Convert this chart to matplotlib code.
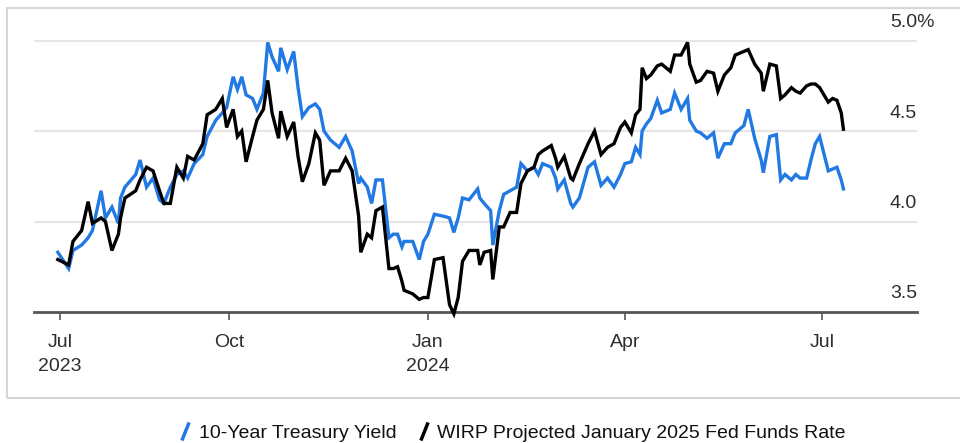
import matplotlib
matplotlib.use("Agg")
import matplotlib.pyplot as plt
import matplotlib.transforms as mtransforms
from matplotlib.patches import Rectangle
from matplotlib.lines import Line2D
from matplotlib.path import Path
import pandas as pd

plt.rcParams['font.family'] = ['Liberation Sans', 'DejaVu Sans']

# observation dates and the two rate series (percent)
dates = [
    "2023-07-14", "2023-07-19", "2023-07-21", "2023-07-25", "2023-07-28", "2023-07-30",
    "2023-08-03", "2023-08-05", "2023-08-08", "2023-08-11", "2023-08-12", "2023-08-14",
    "2023-08-19", "2023-08-21", "2023-08-24", "2023-08-27", "2023-08-30", "2023-09-01",
    "2023-09-04", "2023-09-07", "2023-09-10", "2023-09-12", "2023-09-15", "2023-09-19",
    "2023-09-21", "2023-09-25", "2023-09-28", "2023-09-30", "2023-10-03", "2023-10-05",
    "2023-10-07", "2023-10-09", "2023-10-12", "2023-10-14", "2023-10-17", "2023-10-19",
    "2023-10-21", "2023-10-24", "2023-10-25", "2023-10-28", "2023-10-31", "2023-11-02",
    "2023-11-04", "2023-11-07", "2023-11-10", "2023-11-12", "2023-11-14", "2023-11-17",
    "2023-11-21", "2023-11-24", "2023-11-27", "2023-11-30", "2023-12-01", "2023-12-04",
    "2023-12-06", "2023-12-08", "2023-12-11", "2023-12-14", "2023-12-16", "2023-12-18",
    "2023-12-20", "2023-12-21", "2023-12-25", "2023-12-28", "2023-12-30", "2024-01-01",
    "2024-01-04", "2024-01-08", "2024-01-11", "2024-01-13", "2024-01-15", "2024-01-17",
    "2024-01-20", "2024-01-24", "2024-01-25", "2024-01-27", "2024-01-30", "2024-01-31",
    "2024-02-03", "2024-02-05", "2024-02-08", "2024-02-11", "2024-02-13", "2024-02-16",
    "2024-02-19", "2024-02-21", "2024-02-23", "2024-02-27", "2024-02-29", "2024-03-01",
    "2024-03-04", "2024-03-07", "2024-03-08", "2024-03-11", "2024-03-15", "2024-03-18",
    "2024-03-21", "2024-03-24", "2024-03-27", "2024-03-30", "2024-04-01", "2024-04-04",
    "2024-04-06", "2024-04-08", "2024-04-09", "2024-04-11", "2024-04-13", "2024-04-16",
    "2024-04-18", "2024-04-22", "2024-04-24", "2024-04-27", "2024-04-30", "2024-05-01",
    "2024-05-04", "2024-05-06", "2024-05-09", "2024-05-12", "2024-05-14", "2024-05-17",
    "2024-05-20", "2024-05-22", "2024-05-26", "2024-05-28", "2024-05-31", "2024-06-03",
    "2024-06-04", "2024-06-07", "2024-06-10", "2024-06-12", "2024-06-14", "2024-06-17",
    "2024-06-19", "2024-06-21", "2024-06-24", "2024-06-26", "2024-06-28", "2024-06-30",
    "2024-07-04", "2024-07-06", "2024-07-08", "2024-07-10", "2024-07-11",
]

treasury_10y = [
    3.83, 3.74, 3.84, 3.87, 3.91, 3.95, 4.17, 4.02, 4.08, 3.99, 4.13, 4.19,
    4.26, 4.34, 4.19, 4.24, 4.12, 4.10, 4.19, 4.26, 4.28, 4.24, 4.32, 4.37,
    4.47, 4.56, 4.60, 4.63, 4.80, 4.73, 4.80, 4.70, 4.68, 4.62, 4.71, 4.99,
    4.91, 4.83, 4.96, 4.84, 4.94, 4.74, 4.58, 4.63, 4.65, 4.62, 4.50, 4.45,
    4.41, 4.47, 4.39, 4.21, 4.24, 4.19, 4.10, 4.23, 4.23, 3.91, 3.93, 3.93,
    3.86, 3.89, 3.89, 3.79, 3.89, 3.93, 4.04, 4.03, 4.02, 3.94, 4.02, 4.13,
    4.12, 4.18, 4.13, 4.10, 4.06, 3.87, 4.06, 4.15, 4.17, 4.19, 4.32, 4.28,
    4.30, 4.26, 4.32, 4.30, 4.24, 4.18, 4.23, 4.10, 4.08, 4.13, 4.30, 4.33,
    4.20, 4.24, 4.19, 4.26, 4.32, 4.33, 4.41, 4.37, 4.50, 4.54, 4.57, 4.67,
    4.60, 4.62, 4.71, 4.62, 4.68, 4.56, 4.50, 4.49, 4.46, 4.49, 4.35, 4.43,
    4.43, 4.49, 4.53, 4.62, 4.46, 4.34, 4.27, 4.47, 4.48, 4.23, 4.26, 4.23,
    4.26, 4.24, 4.24, 4.34, 4.43, 4.47, 4.28, 4.29, 4.30, 4.23, 4.18,
]

wirp_jan25 = [
    3.79, 3.76, 3.89, 3.95, 4.11, 3.99, 4.02, 4.00, 3.84, 3.93, 4.02, 4.13,
    4.17, 4.23, 4.30, 4.28, 4.17, 4.10, 4.10, 4.30, 4.24, 4.36, 4.34, 4.43,
    4.59, 4.62, 4.68, 4.52, 4.62, 4.47, 4.50, 4.33, 4.47, 4.56, 4.62, 4.78,
    4.60, 4.46, 4.61, 4.47, 4.55, 4.36, 4.22, 4.32, 4.49, 4.45, 4.20, 4.28,
    4.28, 4.35, 4.28, 4.03, 3.83, 3.93, 3.91, 4.06, 4.08, 3.74, 3.74, 3.75,
    3.67, 3.62, 3.60, 3.57, 3.58, 3.58, 3.79, 3.80, 3.54, 3.49, 3.58, 3.78,
    3.84, 3.84, 3.76, 3.83, 3.84, 3.68, 3.97, 3.97, 4.05, 4.05, 4.21, 4.28,
    4.30, 4.37, 4.39, 4.42, 4.35, 4.30, 4.36, 4.24, 4.23, 4.32, 4.43, 4.50,
    4.37, 4.41, 4.43, 4.52, 4.55, 4.49, 4.59, 4.62, 4.85, 4.79, 4.81, 4.86,
    4.87, 4.83, 4.92, 4.92, 4.99, 4.87, 4.77, 4.78, 4.83, 4.82, 4.72, 4.81,
    4.85, 4.92, 4.94, 4.95, 4.87, 4.82, 4.72, 4.87, 4.86, 4.68, 4.70, 4.74,
    4.72, 4.71, 4.75, 4.76, 4.76, 4.74, 4.66, 4.68, 4.67, 4.60, 4.51,
]

tick_dates = ["2023-07-15", "2023-10-01", "2024-01-01", "2024-04-01", "2024-07-01"]
tick_labels = ["Jul\n2023", "Oct", "Jan\n2024", "Apr", "Jul"]
y_ticks = [3.5, 4.0, 4.5, 5.0]
y_labels = ["3.5", "4.0", "4.5", "5.0%"]
series_names = ["10-Year Treasury Yield", "WIRP Projected January 2025 Fed Funds Rate"]

BLUE = "#2179e3"
BLACK = "#000000"
TEXT = "#2e2e2e"

x = pd.to_datetime(dates)

fig = plt.figure(figsize=(9.6, 4.43), dpi=100)
ax = fig.add_axes([34 / 960, 131 / 443, 883 / 960, 304 / 443])

# light gridlines, dark baseline at 3.5
for v in y_ticks[1:]:
    ax.axhline(v, color="#e6e6e6", lw=1.5, zorder=0)

ax.plot(x, treasury_10y, color=BLUE, lw=2.4, solid_joinstyle="miter", clip_on=False, zorder=3)
ax.plot(x, wirp_jan25, color=BLACK, lw=2.4, solid_joinstyle="miter", clip_on=False, zorder=4)

ax.set_xlim(pd.Timestamp("2023-07-03"), pd.Timestamp("2024-08-14"))
ax.set_ylim(3.5, 5.18)

for side in ("top", "right", "left"):
    ax.spines[side].set_visible(False)
ax.spines["bottom"].set_color("#555555")
ax.spines["bottom"].set_linewidth(2)

ax.set_yticks([])
ax.set_xticks(pd.to_datetime(tick_dates))
ax.set_xticklabels(tick_labels, linespacing=1.55)
ax.tick_params(axis="x", length=6, width=1.2, color="#555555", pad=10,
               labelsize=14, labelcolor=TEXT)

# value labels sit just above each gridline, inside the plot on the right
base = mtransforms.blended_transform_factory(ax.transAxes, ax.transData)
lift = mtransforms.offset_copy(base, fig=fig, y=18, units="dots")
for v, lab in zip(y_ticks, y_labels):
    ax.text(0.9694, v, lab, transform=lift, ha="left", va="center",
            fontsize=14, color=TEXT)

# outer frame running off the right edge
fig.add_artist(Rectangle((7 / 960, 45 / 443), 1.0, 390 / 443, transform=fig.transFigure,
                         fill=False, ec="#d6d6d6", lw=1.5))

slash = Path([(-0.4, -1.0), (0.4, 1.0)], [Path.MOVETO, Path.LINETO])
handles = [Line2D([], [], ls="none", marker=slash, markersize=13, mew=2.5, mec=c)
           for c in (BLUE, BLACK)]
fig.legend(handles, series_names, loc="center", bbox_to_anchor=(0.533, 1 - 433 / 443),
           ncol=2, frameon=False, handlelength=0.8, handletextpad=0.3,
           columnspacing=1.0, fontsize=14, labelcolor="#111111")

fig.savefig("out.png", dpi=100)
